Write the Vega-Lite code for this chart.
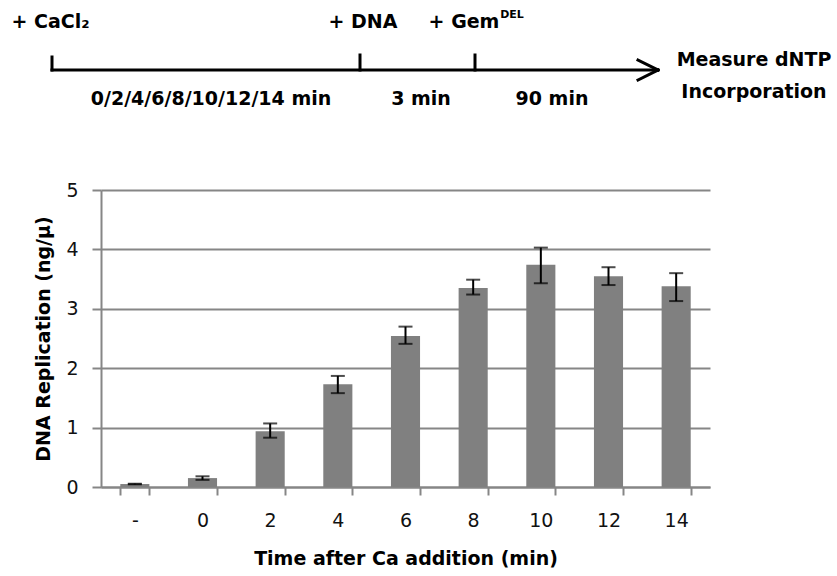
{
  "$schema": "https://vega.github.io/schema/vega-lite/v6.json",
  "width": 609,
  "height": 297,
  "autosize": {"type": "none"},
  "padding": {"left": 101, "top": 190, "right": 127, "bottom": 89},
  "background": "white",
  "config": {"view": {"stroke": null}},
  "datasets": {
    "bars": [
      {"time": "-", "mean": 0.05, "lo": 0.045, "hi": 0.055},
      {"time": "0", "mean": 0.15, "lo": 0.12, "hi": 0.18},
      {"time": "2", "mean": 0.94, "lo": 0.83, "hi": 1.07},
      {"time": "4", "mean": 1.73, "lo": 1.58, "hi": 1.87},
      {"time": "6", "mean": 2.54, "lo": 2.41, "hi": 2.70},
      {"time": "8", "mean": 3.35, "lo": 3.24, "hi": 3.49},
      {"time": "10", "mean": 3.74, "lo": 3.43, "hi": 4.03},
      {"time": "12", "mean": 3.55, "lo": 3.40, "hi": 3.70},
      {"time": "14", "mean": 3.38, "lo": 3.13, "hi": 3.60}
    ],
    "segments": [
      {"part": "timeline", "u": 0, "v": 0, "u2": 60.6, "v2": 0},
      {"part": "start", "u": 0, "v": 1.3, "u2": 0, "v2": 0},
      {"part": "dna", "u": 30.8, "v": 1.5, "u2": 30.8, "v2": 0},
      {"part": "gem", "u": 42.3, "v": 1.5, "u2": 42.3, "v2": 0},
      {"part": "arrow-up", "u": 58.6, "v": 1.0, "u2": 60.6, "v2": 0},
      {"part": "arrow-down", "u": 58.6, "v": -1.0, "u2": 60.6, "v2": 0}
    ],
    "labels": [
      {"kind": "event", "text": "+ CaCl₂", "u": -0.15, "v": 4.8},
      {"kind": "event", "text": "+ DNA", "u": 31.1, "v": 4.8},
      {"kind": "event", "text": "+ Gem", "u": 41.2, "v": 4.8},
      {"kind": "sup", "text": "DEL", "u": 46.0, "v": 5.5},
      {"kind": "event", "text": "0/2/4/6/8/10/12/14 min", "u": 15.9, "v": -2.9},
      {"kind": "event", "text": "3 min", "u": 36.9, "v": -2.9},
      {"kind": "event", "text": "90 min", "u": 50, "v": -2.9},
      {"kind": "event", "text": "Measure dNTP", "u": 70.2, "v": 1.0},
      {"kind": "event", "text": "Incorporation", "u": 70.2, "v": -2.2}
    ]
  },
  "layer": [
    {
      "data": {"name": "bars"},
      "encoding": {
        "x": {
          "field": "time",
          "type": "nominal",
          "sort": null,
          "scale": {"paddingInner": 0.57, "paddingOuter": 0.285},
          "axis": {
            "title": "Time after Ca addition (min)",
            "labelAngle": 0,
            "labelFont": "DejaVu Sans",
            "labelFontSize": 19,
            "labelColor": "#111",
            "labelPadding": 16,
            "tickBand": "extent",
            "tickSize": 8,
            "tickWidth": 2,
            "tickColor": "#868686",
            "domainColor": "#868686",
            "domainWidth": 2,
            "titleFont": "DejaVu Sans",
            "titleFontSize": 19,
            "titleFontWeight": "bold",
            "titleColor": "#000",
            "titlePadding": 19
          }
        }
      },
      "layer": [
        {
          "mark": {"type": "bar", "color": "#808080"},
          "encoding": {
            "y": {
              "field": "mean",
              "type": "quantitative",
              "scale": {"domain": [0, 5], "nice": false},
              "axis": {
                "title": "DNA Replication (ng/µ)",
                "values": [0, 1, 2, 3, 4, 5],
                "format": "d",
                "grid": true,
                "gridColor": "#868686",
                "gridWidth": 2,
                "domainColor": "#868686",
                "domainWidth": 2,
                "tickColor": "#868686",
                "tickWidth": 2,
                "tickSize": 9,
                "labelFont": "DejaVu Sans",
                "labelFontSize": 19,
                "labelColor": "#111",
                "labelPadding": 14,
                "titleFont": "DejaVu Sans",
                "titleFontSize": 19,
                "titleFontWeight": "bold",
                "titleColor": "#000",
                "titlePadding": 12
              }
            }
          }
        },
        {
          "mark": {"type": "rule", "color": "black", "strokeWidth": 2},
          "encoding": {
            "y": {"field": "lo", "type": "quantitative"},
            "y2": {"field": "hi"}
          }
        },
        {
          "mark": {"type": "tick", "color": "black", "thickness": 2, "size": 14},
          "encoding": {"y": {"field": "lo", "type": "quantitative"}}
        },
        {
          "mark": {"type": "tick", "color": "black", "thickness": 2, "size": 14},
          "encoding": {"y": {"field": "hi", "type": "quantitative"}}
        }
      ]
    },
    {
      "layer": [
        {
          "data": {"name": "segments"},
          "mark": {"type": "rule", "color": "black", "strokeWidth": 3, "strokeCap": "square"},
          "encoding": {
            "x": {"field": "u", "type": "quantitative", "scale": {"domain": [4.9, 65.8], "nice": false, "zero": false}, "axis": null},
            "x2": {"field": "u2"},
            "y": {"field": "v", "type": "quantitative", "scale": {"domain": [-41.7, -12], "nice": false, "zero": false}, "axis": null},
            "y2": {"field": "v2"}
          }
        },
        {
          "data": {"name": "labels"},
          "transform": [{"filter": "datum.kind === 'event'"}],
          "mark": {"type": "text", "font": "DejaVu Sans", "fontSize": 19, "fontWeight": "bold", "color": "black", "align": "center", "baseline": "middle"},
          "encoding": {
            "x": {"field": "u", "type": "quantitative"},
            "y": {"field": "v", "type": "quantitative"},
            "text": {"field": "text"}
          }
        },
        {
          "data": {"name": "labels"},
          "transform": [{"filter": "datum.kind === 'sup'"}],
          "mark": {"type": "text", "font": "DejaVu Sans", "fontSize": 11, "fontWeight": "bold", "color": "black", "align": "center", "baseline": "middle"},
          "encoding": {
            "x": {"field": "u", "type": "quantitative"},
            "y": {"field": "v", "type": "quantitative"},
            "text": {"field": "text"}
          }
        }
      ]
    }
  ],
  "resolve": {"scale": {"x": "independent", "y": "independent"}}
}
